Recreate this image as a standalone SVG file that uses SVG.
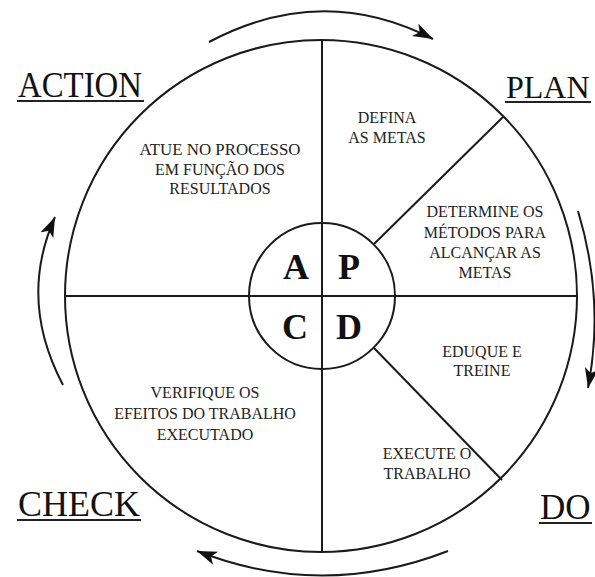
<svg xmlns="http://www.w3.org/2000/svg" width="595" height="577" viewBox="0 0 595 577">
<style>
.ln{fill:none;stroke:#1a1a1a;stroke-width:2}
.arr{fill:none;stroke:#1a1a1a;stroke-width:2;marker-end:url(#ah)}
.big{font-family:"Liberation Serif","Times New Roman",serif;font-size:35px;fill:#111}
.ul{stroke:#222;stroke-width:2}
.t{font-family:"Liberation Serif","Times New Roman",serif;font-size:16px;fill:#222;text-anchor:middle}
.c{font-family:"Liberation Serif","Times New Roman",serif;font-size:36px;font-weight:bold;fill:#111;text-anchor:middle}
</style>
<defs>
<marker id="ah" markerUnits="userSpaceOnUse" markerWidth="24" markerHeight="16" refX="20" refY="7" orient="auto">
<path d="M0,0 L20,7 L0,14 L5,7 Z" fill="#111"/>
</marker>
</defs>
<rect width="595" height="577" fill="#fff"/>
<g id="connectors">
<path class="arr" d="M209,42 Q322,-18 433,39"/>
<path class="arr" d="M578,211 Q605,300 588,388"/>
<path class="arr" d="M448,551 Q322,600 197,551"/>
<path class="arr" d="M63,385 Q18,300 55,217"/>
</g>
<g id="wheel">
<circle class="ln" cx="321" cy="296" r="256"/>
<line class="ln" x1="322" y1="40" x2="322" y2="552"/>
<line class="ln" x1="65" y1="296" x2="577" y2="296"/>
<line class="ln" x1="374" y1="244" x2="503" y2="117"/>
<line class="ln" x1="374" y1="348" x2="502" y2="480"/>
<circle class="ln" cx="322" cy="296" r="73"/>
</g>
<g id="action">
<text class="big" x="18" y="97" textLength="124" lengthAdjust="spacingAndGlyphs">ACTION</text>
<line class="ul" x1="17" y1="101" x2="144" y2="101"/>
</g>
<g id="plan">
<text class="big" x="506" y="98" style="font-size:32px">PLAN</text>
<line class="ul" x1="505" y1="102" x2="591" y2="102"/>
</g>
<g id="check">
<text class="big" x="18" y="516" textLength="122" lengthAdjust="spacingAndGlyphs">CHECK</text>
<line class="ul" x1="17" y1="520" x2="141" y2="520"/>
</g>
<g id="do">
<text class="big" x="540" y="519">DO</text>
<line class="ul" x1="539" y1="523" x2="592" y2="523"/>
</g>
<g id="center">
<text class="c" x="296" y="279">A</text>
<text class="c" x="349" y="279">P</text>
<text class="c" x="295" y="339">C</text>
<text class="c" x="349" y="339">D</text>
</g>
<g id="q-plan1">
<text class="t" x="387" y="123">DEFINA</text>
<text class="t" x="387" y="143">AS METAS</text>
</g>
<g id="q-plan2">
<text class="t" x="485" y="217">DETERMINE OS</text>
<text class="t" x="485" y="238">MÉTODOS PARA</text>
<text class="t" x="485" y="258">ALCANÇAR AS</text>
<text class="t" x="485" y="278">METAS</text>
</g>
<g id="q-action">
<text class="t" x="220" y="155" textLength="161" lengthAdjust="spacingAndGlyphs">ATUE NO PROCESSO</text>
<text class="t" x="220" y="175">EM FUNÇÃO DOS</text>
<text class="t" x="220" y="194">RESULTADOS</text>
</g>
<g id="q-do1">
<text class="t" x="482" y="357">EDUQUE E</text>
<text class="t" x="482" y="376">TREINE</text>
</g>
<g id="q-do2">
<text class="t" x="427" y="459">EXECUTE O</text>
<text class="t" x="427" y="479">TRABALHO</text>
</g>
<g id="q-check">
<text class="t" x="205" y="398">VERIFIQUE OS</text>
<text class="t" x="205" y="419">EFEITOS DO TRABALHO</text>
<text class="t" x="205" y="440">EXECUTADO</text>
</g>
</svg>
